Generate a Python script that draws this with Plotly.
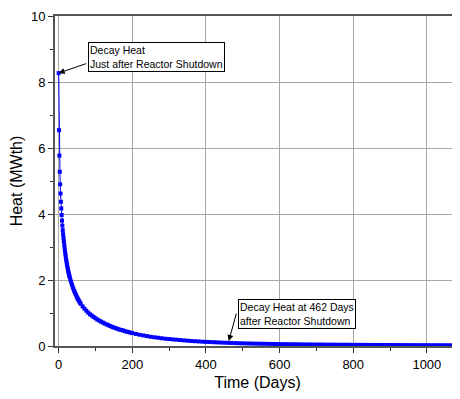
import plotly.graph_objects as go

days = list(range(0, 31)) + list(range(32, 61, 2)) + list(range(65, 201, 5)) + list(range(210, 1081, 10))

heat = [
    8.27, 6.54, 5.77, 5.28, 4.90, 4.62, 4.37, 4.17, 3.97, 3.80,
    3.65, 3.51, 3.39, 3.28, 3.18, 3.08, 2.98, 2.89, 2.80, 2.72,
    2.64, 2.57, 2.50, 2.44, 2.38, 2.32, 2.27, 2.22, 2.17, 2.12,
    2.08,
    2.00, 1.93, 1.86, 1.79, 1.73, 1.67, 1.62, 1.57, 1.52, 1.47,
    1.43, 1.39, 1.35, 1.31, 1.28,
    1.20, 1.13, 1.07, 1.01, 0.96, 0.92, 0.88, 0.84, 0.80, 0.77,
    0.74, 0.71, 0.68, 0.655, 0.63, 0.605, 0.58, 0.56, 0.54, 0.52,
    0.50, 0.485, 0.47, 0.45, 0.435, 0.42, 0.405, 0.39,
    0.365, 0.34, 0.32, 0.30, 0.28, 0.265, 0.25, 0.235, 0.22, 0.21,
    0.20, 0.19, 0.18, 0.17, 0.16, 0.152, 0.145, 0.138, 0.131, 0.125,
    0.12, 0.115, 0.11, 0.105, 0.10, 0.096, 0.092, 0.088, 0.084, 0.08,
    0.077, 0.075, 0.072, 0.07, 0.068, 0.066, 0.064, 0.062, 0.06, 0.058,
    0.057, 0.055, 0.054, 0.053, 0.051, 0.05, 0.049, 0.047, 0.046, 0.045,
    0.044, 0.043, 0.042, 0.041, 0.040, 0.039, 0.038, 0.038, 0.037, 0.036,
    0.035, 0.035, 0.034, 0.033, 0.033, 0.032, 0.032, 0.031, 0.030, 0.030,
    0.029, 0.029, 0.028, 0.028, 0.027, 0.027, 0.026, 0.026, 0.025, 0.025,
    0.025, 0.024, 0.024, 0.023, 0.023, 0.023, 0.022, 0.022,
]

x_ticks = [0, 200, 400, 600, 800, 1000]
y_ticks = [0, 2, 4, 6, 8, 10]

label_start = "Decay Heat<br>Just after Reactor Shutdown"
label_462 = "Decay Heat at 462 Days<br>after Reactor Shutdown"
marked_day = 462

FONT = "Liberation Sans, Arial, sans-serif"

fig = go.Figure()
fig.add_trace(go.Scatter(
    x=days, y=heat, mode="lines+markers",
    line=dict(color="#0000ff", width=1),
    marker=dict(symbol="square", size=4, color="#0000ff", line=dict(width=0)),
    showlegend=False, cliponaxis=False,
))

axis_common = dict(
    showline=True, linecolor="#555555", linewidth=2,
    ticks="outside", ticklen=5, tickwidth=1, tickcolor="#333333",
    showgrid=True, gridcolor="#a8a8a8", gridwidth=1,
    zeroline=False,
    tickfont=dict(family=FONT, size=13, color="black"),
)

fig.update_xaxes(
    range=[-10, 1090], tickvals=x_ticks, mirror=True,
    minor=dict(dtick=100, tick0=0, ticks="outside", ticklen=3, tickcolor="#333333", showgrid=False),
    title=dict(text="Time (Days)", font=dict(family=FONT, size=16, color="black"), standoff=6),
    **axis_common,
)
fig.update_yaxes(
    range=[0, 10], tickvals=y_ticks, mirror=False,
    minor=dict(dtick=1, tick0=0, ticks="outside", ticklen=3, tickcolor="#333333", showgrid=False),
    title=dict(text="Heat (MWth)", font=dict(family=FONT, size=16, color="black"), standoff=6),
    **axis_common,
)

ann_font = dict(family=FONT, size=10.5, color="black")
fig.add_annotation(
    x=79, y=9.2, xref="x", yref="y", xanchor="left", yanchor="top",
    text=label_start, align="left", showarrow=False, font=ann_font,
    bordercolor="black", borderwidth=1, borderpad=1, bgcolor="white",
)
fig.add_annotation(
    x=486, y=1.41, xref="x", yref="y", xanchor="left", yanchor="top",
    text=label_462, align="left", showarrow=False, font=ann_font,
    bordercolor="black", borderwidth=1, borderpad=1, bgcolor="white",
)
# arrows
fig.add_annotation(
    x=days[0], y=heat[0], xref="x", yref="y", text="", showarrow=True,
    ax=29, ay=-10, arrowhead=2, arrowsize=1.2, arrowwidth=1, arrowcolor="black",
)
fig.add_annotation(
    x=marked_day, y=0.15, xref="x", yref="y", text="", showarrow=True,
    ax=8, ay=-29, arrowhead=2, arrowsize=1.2, arrowwidth=1, arrowcolor="black",
)

fig.update_layout(
    width=452, height=383,
    margin=dict(l=47, r=0, t=8, b=45),
    paper_bgcolor="white", plot_bgcolor="white",
    font=dict(family=FONT, color="black"),
)

fig.write_html("out.html")
